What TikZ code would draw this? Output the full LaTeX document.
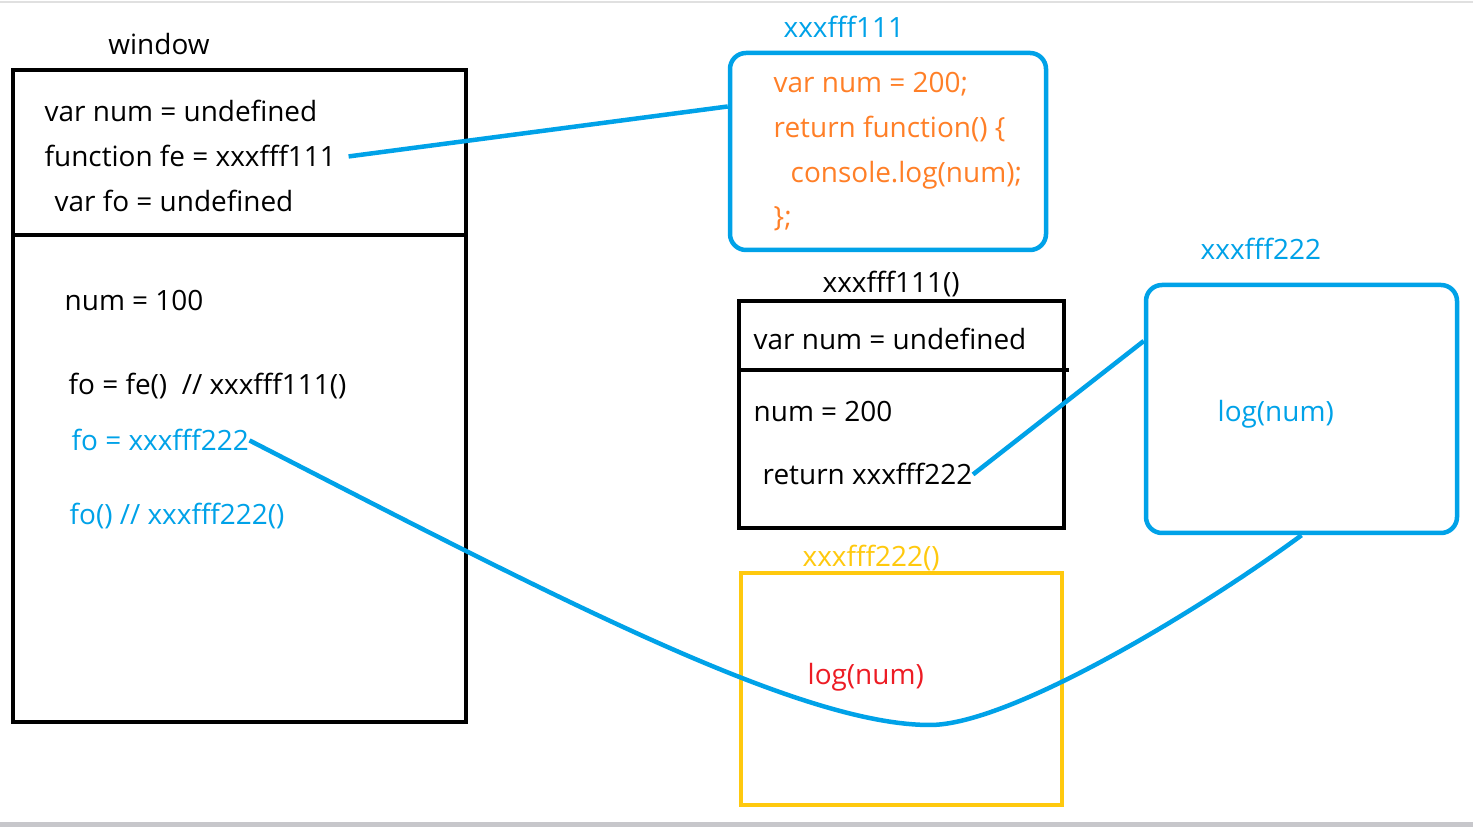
\documentclass[tikz,border=0pt]{standalone}
\usepackage{fontspec}
\setmainfont{Open Sans}
\usetikzlibrary{positioning}
\definecolor{paintblue}{HTML}{00A2E8}
\definecolor{paintorange}{HTML}{FF7F27}
\definecolor{paintyellow}{HTML}{FFC90E}
\definecolor{paintred}{HTML}{ED1C24}
\begin{document}
\begin{tikzpicture}[x=1mm,y=1mm,
    every node/.style={inner sep=0pt, font=\fontsize{7.95}{10}\selectfont},
    code/.style={anchor=base west},
    frame/.style={draw=black, line width=0.45mm, rectangle},
    heap/.style={draw=paintblue, line width=0.45mm, rectangle, rounded corners=1.6mm},
    callbox/.style={draw=paintyellow, line width=0.45mm, rectangle},
    link/.style={paintblue, line width=0.45mm}]
  \useasboundingbox (0,0) rectangle (147.3,-82.7);
  \fill[white] (0,0) rectangle (147.3,-82.7);
  \draw[black!12, line width=0.2mm] (0,-0.2) -- (147.3,-0.2);
  \fill[blue!8!black!22] (0,-82.2) rectangle (147.3,-82.7);
  % window
  \node[frame, minimum width=45.3mm, minimum height=65.2mm] (window) at (23.95,-39.6) {};
  \draw[line width=0.45mm] (1.3,-23.5) -- (46.6,-23.5);
  \node[anchor=base] (windowlbl) at (15.9,-5.5) {window};
  \node[code] (vnum) at (4.4,-12.2) {var num = undefined};
  \node[code] (fe) at (4.4,-16.7) {function fe = xxxfff111};
  \node[code] (vfo) at (5.4,-21.2) {var fo = undefined};
  \node[code] (num100) at (6.4,-31.1) {num = 100};
  \node[code] (fofe) at (6.8,-39.5) {fo = fe()\ \ // xxxfff111()};
  \node[code, text=paintblue] (fo222) at (7.1,-45.1) {fo = xxxfff222};
  \node[code, text=paintblue] (focall) at (6.9,-52.5) {fo() // xxxfff222()};
  % xxxfff111
  \node[heap, minimum width=31.6mm, minimum height=19.7mm] (box111) at (88.8,-15.15) {};
  \node[code, text=paintblue] (lbl111) at (78.3,-3.8) {xxxfff111};
  \node[code, text=paintorange] (o1) at (77.3,-9.3) {var num = 200;};
  \node[code, text=paintorange] (o2) at (77.3,-13.8) {return function() \{};
  \node[code, text=paintorange] (o3) at (79.0,-18.3) {console.log(num);};
  \node[code, text=paintorange] (o4) at (77.3,-22.7) {\};};
  % xxxfff111()
  \node[frame, minimum width=32.5mm, minimum height=22.7mm] (call111) at (90.15,-41.45) {};
  \draw[line width=0.45mm] (73.9,-37.0) -- (106.9,-37.0);
  \node[code] (lblcall111) at (82.2,-29.3) {xxxfff111()};
  \node[code] (vnum2) at (75.3,-35.0) {var num = undefined};
  \node[code] (num200) at (75.3,-42.2) {num = 200};
  \node[code] (ret222) at (76.2,-48.5) {return xxxfff222};
  % xxxfff222
  \node[heap, minimum width=31.1mm, minimum height=24.8mm] (box222) at (130.15,-40.9) {};
  \node[code, text=paintblue] (lbl222) at (120.0,-26.0) {xxxfff222};
  \node[code, text=paintblue] (log222) at (121.7,-42.2) {log(num)};
  % xxxfff222()
  \node[callbox, minimum width=32.1mm, minimum height=23.2mm] (call222) at (90.15,-68.9) {};
  \node[code, text=paintyellow] (lblcall222) at (80.2,-56.7) {xxxfff222()};
  \node[code, text=paintred] (logcall) at (80.7,-68.5) {log(num)};
  % references
  \draw[link] ([xshift=1.2mm]fe.east) -- ([yshift=4.5mm]box111.west);
  \draw[link] (ret222.east) -- ([yshift=6.8mm]box222.west);
  \draw[link] (fo222.east) .. controls (56,-60) and (80,-72.5) .. (93,-72.5)
    .. controls (101,-72.5) and (120,-61) .. (box222.south);
\end{tikzpicture}
\end{document}
